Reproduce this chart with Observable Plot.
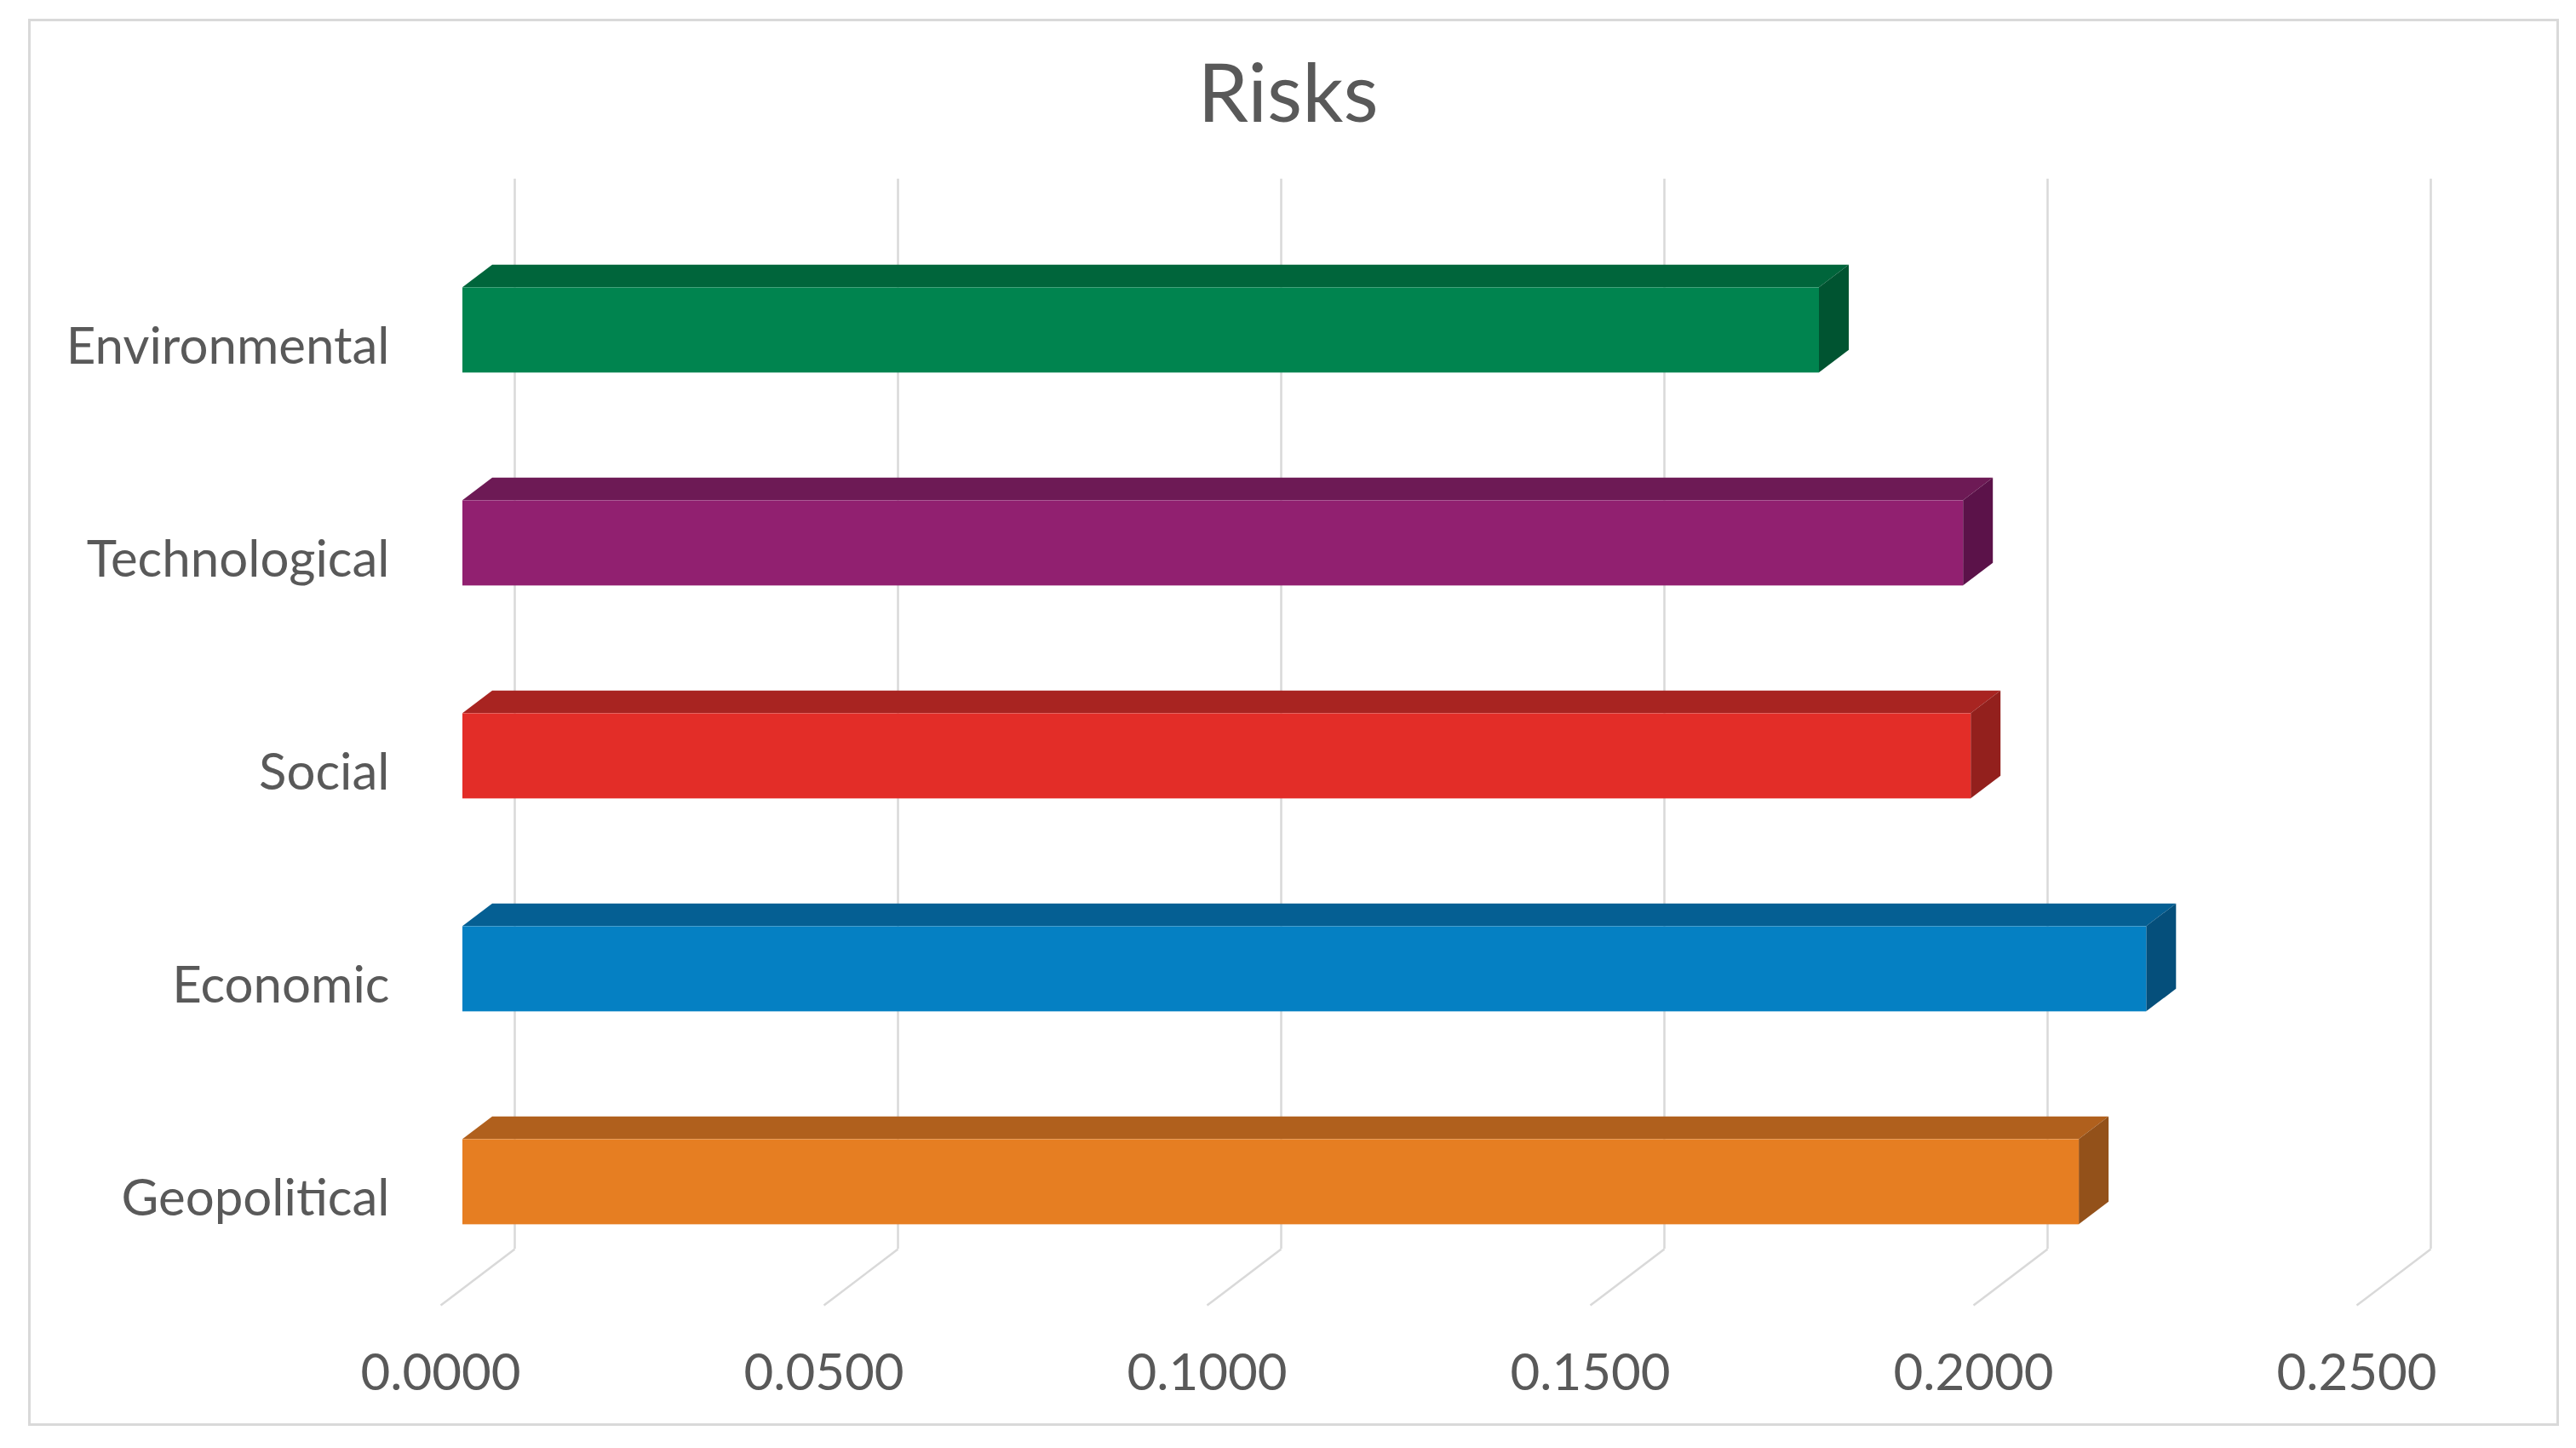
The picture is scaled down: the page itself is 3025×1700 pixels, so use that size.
<!DOCTYPE html>
<html>
<head>
<meta charset="utf-8">
<script src="https://cdn.jsdelivr.net/npm/d3@7"></script>
<script src="https://cdn.jsdelivr.net/npm/@observablehq/plot@0.6"></script>
<style>
  html, body { margin: 0; padding: 0; background: #ffffff; }
  #wrap { position: relative; width: 3025px; height: 1700px; overflow: hidden; background: #fff; }
  #frame { position: absolute; left: 33px; top: 22px; width: 2972px; height: 1652px; border: 3px solid #d9d9d9; box-sizing: border-box; }
  #title { position: absolute; left: 0; top: 59px; width: 3025px; text-align: center; font-family: Lato, "Open Sans", sans-serif; font-size: 95px; line-height: 1; color: #595959; }
  #chart { position: absolute; left: 0; top: 200px; }
</style>
</head>
<body>
<div id="wrap">
  <div id="frame"></div>
  <div id="title">Risks</div>
  <div id="chart"></div>
</div>
<script>
// ---- data ----
const categories = ["Environmental", "Technological", "Social", "Economic", "Geopolitical"];
const values = [0.1770, 0.1958, 0.1968, 0.2197, 0.2109];
const frontColors = ["#00844f", "#912070", "#e32d28", "#0580c3", "#e67e22"];
const topColors = ["#00653b", "#6d1a55", "#a82421", "#055f93", "#b0601d"];
const sideColors = ["#005431", "#5b1249", "#93201d", "#054f7b", "#93511a"];
const xTicks = [0, 0.05, 0.10, 0.15, 0.20, 0.25];

// ---- pseudo-3D projection helpers (depth in px: 0 = back wall, 87 = front of floor) ----
const pxPerX = 9000, pxPerY = 250, slope = 0.76;
const floorDepth = 87, barBack = 26, barFront = 61, halfBar = 0.2;
const sx = p => -p / pxPerX;          // horizontal shift in x units
const sy = p => slope * p / pxPerY;   // vertical shift in y (index) units

const rows = categories.map((c, i) => ({c, i, v: values[i], front: frontColors[i], top: topColors[i], side: sideColors[i]}));

// front faces
const fronts = rows.map(r => ({...r,
  x1: sx(barFront), x2: r.v + sx(barFront),
  y1: r.i - halfBar + sy(barFront), y2: r.i + halfBar + sy(barFront)}));

// top faces (2 points each; areaX between x1 and x2)
const tops = rows.flatMap(r => [barFront, barBack].map(p => ({...r,
  y: r.i - halfBar + sy(p), x1: sx(p), x2: r.v + sx(p)})));

// side faces (2 points each; areaY between y1 and y2)
const sides = rows.flatMap(r => [barFront, barBack].map(p => ({...r,
  x: r.v + sx(p), y1: r.i - halfBar + sy(p), y2: r.i + halfBar + sy(p)})));

const yMin = -0.5, yMax = categories.length - 0.5;
const grid = "#d9d9d9";
const textColor = "#595959";

const chart = Plot.plot({
  width: 3025,
  height: 1500,
  marginLeft: 604,
  marginRight: 171,
  marginTop: 16,
  marginBottom: 234,
  x: {domain: [0, 0.25], axis: null},
  y: {domain: [yMin, yMax], reverse: true, axis: null},
  color: {type: "identity"},
  style: {fontFamily: "Lato, 'Open Sans', sans-serif", background: "transparent", overflow: "visible"},
  marks: [
    // back wall gridlines
    Plot.ruleX(xTicks, {x: d => d, y1: yMin - 0.025, y2: yMax, stroke: grid, strokeWidth: 2.5}),
    // floor diagonals
    Plot.link(xTicks, {x1: d => d, y1: yMax, x2: d => d + sx(floorDepth), y2: yMax + sy(floorDepth), stroke: grid, strokeWidth: 2.5}),
    // bars
    Plot.areaX(tops, {y: "y", x1: "x1", x2: "x2", z: "c", fill: "top"}),
    Plot.areaY(sides, {x: "x", y1: "y1", y2: "y2", z: "c", fill: "side"}),
    Plot.rect(fronts, {x1: "x1", x2: "x2", y1: "y1", y2: "y2", fill: "front"}),
    // category labels (front plane)
    Plot.text(rows, {x: sx(floorDepth), y: r => r.i + sy(floorDepth), text: "c", dx: -60, textAnchor: "end", fontSize: 60, fill: textColor}),
    // value tick labels (front of floor)
    Plot.text(xTicks, {x: d => d + sx(floorDepth), y: yMax + sy(floorDepth), dy: 80, text: d => d.toFixed(4), fontSize: 60, fill: textColor})
  ]
});
document.getElementById("chart").appendChild(chart);
</script>
</body>
</html>
